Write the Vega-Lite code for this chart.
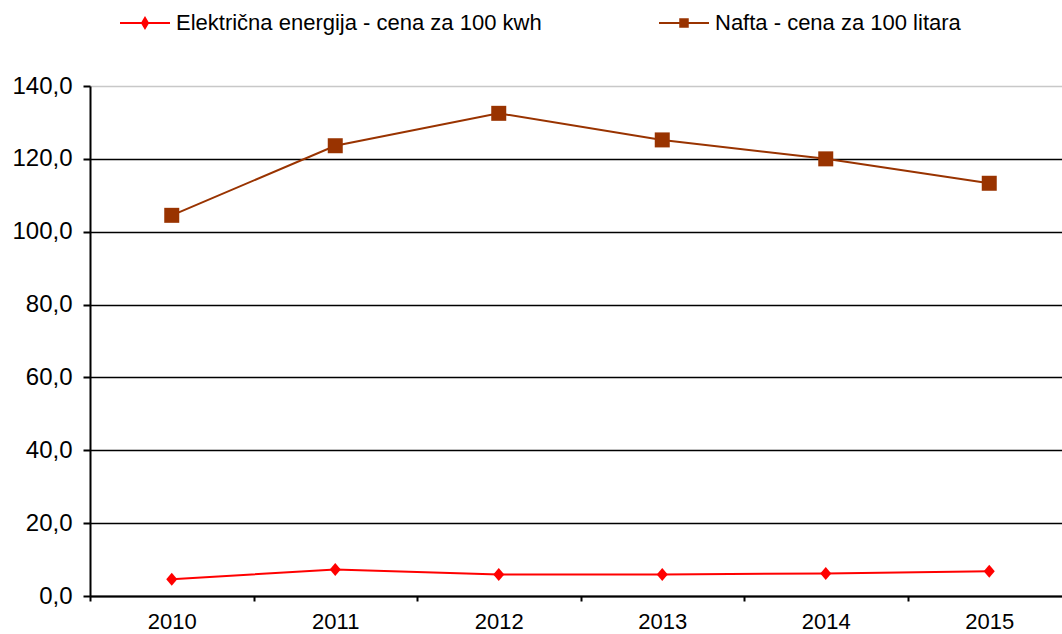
{
  "$schema": "https://vega.github.io/schema/vega-lite/v6.json",
  "width": 972,
  "height": 510,
  "autosize": {"type": "none"},
  "padding": {"left": 90, "top": 86, "right": 0, "bottom": 38},
  "background": "white",
  "config": {
    "view": {"stroke": null},
    "font": "Liberation Sans"
  },
  "data": {
    "values": [
      {"year": "2010", "series": "Električna energija - cena za 100 kwh", "value": 4.6},
      {"year": "2011", "series": "Električna energija - cena za 100 kwh", "value": 7.3},
      {"year": "2012", "series": "Električna energija - cena za 100 kwh", "value": 5.9},
      {"year": "2013", "series": "Električna energija - cena za 100 kwh", "value": 5.9},
      {"year": "2014", "series": "Električna energija - cena za 100 kwh", "value": 6.2},
      {"year": "2015", "series": "Električna energija - cena za 100 kwh", "value": 6.8},
      {"year": "2010", "series": "Nafta - cena za 100 litara", "value": 104.5},
      {"year": "2011", "series": "Nafta - cena za 100 litara", "value": 123.6},
      {"year": "2012", "series": "Nafta - cena za 100 litara", "value": 132.5},
      {"year": "2013", "series": "Nafta - cena za 100 litara", "value": 125.2},
      {"year": "2014", "series": "Nafta - cena za 100 litara", "value": 120.0},
      {"year": "2015", "series": "Nafta - cena za 100 litara", "value": 113.3}
    ]
  },
  "encoding": {
    "x": {
      "field": "year", "type": "ordinal",
      "scale": {"type": "band", "range": [0, 981], "paddingInner": 0, "paddingOuter": 0},
      "axis": {
        "title": null, "labelAngle": 0, "tickBand": "extent",
        "domainColor": "black", "domainWidth": 2,
        "tickColor": "black", "tickWidth": 2, "tickSize": 5,
        "labelFontSize": 22, "labelColor": "black", "labelPadding": 10,
        "grid": false
      }
    },
    "y": {
      "field": "value", "type": "quantitative",
      "scale": {"domain": [0, 140], "nice": false},
      "axis": {
        "title": null, "values": [0, 20, 40, 60, 80, 100, 120, 140],
        "labelExpr": "replace(format(datum.value, '.1f'), '.', ',')",
        "domainColor": "black", "domainWidth": 2,
        "tickColor": "black", "tickWidth": 2, "tickSize": 7,
        "labelFontSize": 24, "labelColor": "black", "labelPadding": 11,
        "grid": true,
        "gridColor": {"condition": {"test": "datum.value === 140", "value": "#c8c8c8"}, "value": "black"},
        "gridWidth": 1.6
      }
    },
    "color": {
      "field": "series", "type": "nominal",
      "scale": {
        "domain": ["Električna energija - cena za 100 kwh", "Nafta - cena za 100 litara"],
        "range": ["#ff0000", "#993300"]
      },
      "legend": {
        "title": null, "orient": "none", "legendX": 44, "legendY": -74,
        "direction": "horizontal", "columns": 2, "columnPadding": 113,
        "labelFontSize": 22, "labelColor": "black", "labelOffset": 20, "labelLimit": 600,
        "symbolSize": 100, "symbolStrokeWidth": 2,
        "encode": {
          "symbols": {
            "update": {
              "shape": {"signal": "datum.value === 'Nafta - cena za 100 litara' ? 'M-5,0H5M-0.75,-0.75H0.75V0.75H-0.75Z' : 'M-5,0H5M-0.6,0L0,-1L0.6,0L0,1Z'"},
              "stroke": {"signal": "datum.value === 'Nafta - cena za 100 litara' ? '#993300' : '#ff0000'"},
              "fill": {"signal": "datum.value === 'Nafta - cena za 100 litara' ? '#993300' : '#ff0000'"},
              "strokeWidth": {"value": 2},
              "opacity": {"value": 1}
            }
          }
        }
      }
    }
  },
  "layer": [
    {
      "mark": {"type": "line", "strokeWidth": 2}
    },
    {
      "transform": [{"filter": "datum.series === 'Električna energija - cena za 100 kwh'"}],
      "mark": {"type": "point", "filled": true, "opacity": 1, "size": 169, "strokeWidth": 0, "shape": "M-0.85,0L0,-1L0.85,0L0,1Z"}
    },
    {
      "transform": [{"filter": "datum.series === 'Nafta - cena za 100 litara'"}],
      "mark": {"type": "point", "filled": true, "opacity": 1, "size": 225, "strokeWidth": 0, "shape": "square"}
    }
  ]
}
